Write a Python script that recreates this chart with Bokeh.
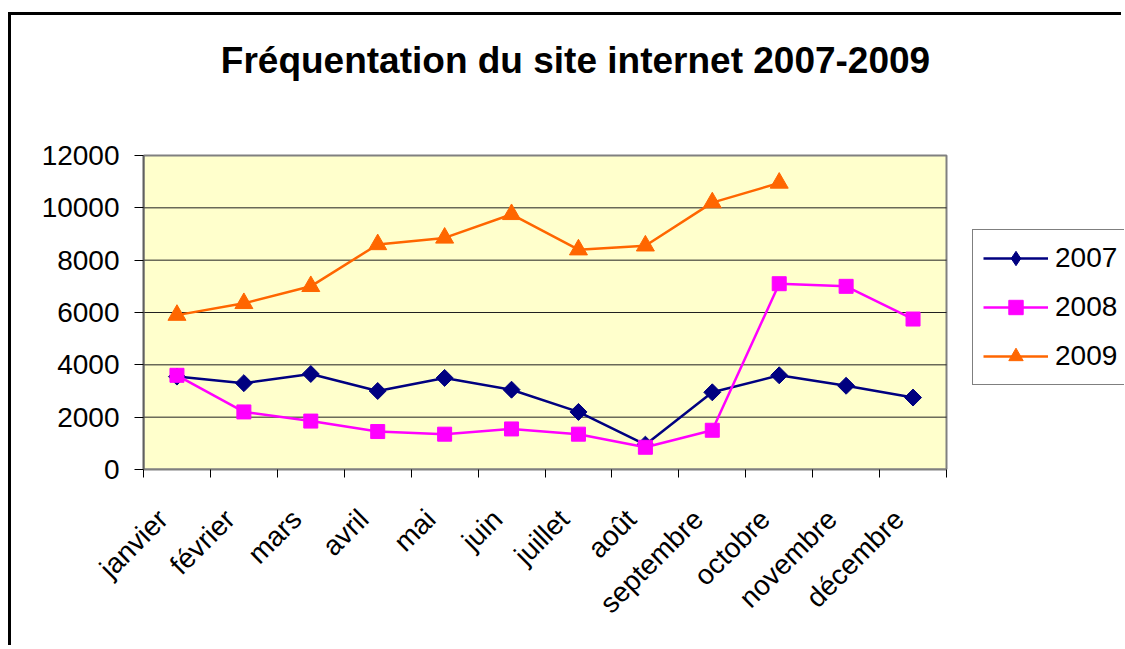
import numpy as np
from bokeh.plotting import figure
from bokeh.models import Range1d, FixedTicker, Legend, LegendItem, Label
from bokeh.embed import file_html
from bokeh.resources import INLINE

months = ["janvier", "février", "mars", "avril", "mai", "juin", "juillet",
          "août", "septembre", "octobre", "novembre", "décembre"]
v2007 = [3550, 3300, 3650, 3000, 3500, 3050, 2200, 950, 2950, 3600, 3200, 2750]
v2008 = [3600, 2200, 1850, 1450, 1350, 1550, 1350, 850, 1500, 7100, 7000, 5750]
v2009 = [5900, 6350, 7000, 8600, 8850, 9750, 8400, 8550, 10200, 10950]
y_ticks = [0, 2000, 4000, 6000, 8000, 10000, 12000]
title_text = "Fréquentation du site internet 2007-2009"

FONT = "Liberation Sans"

# layout (pixels)
FIG_W, FIG_H = 1113, 633
LEFT, BOTTOM = 132, 179
PLOT_W, PLOT_H = 803, 314          # the yellow plot area
FRAME_W = FIG_W - LEFT
FRAME_H = FIG_H - BOTTOM

n = len(months)
x0, x1 = -0.5, n - 0.5
ymax = y_ticks[-1]
x_end = x0 + (x1 - x0) * FRAME_W / PLOT_W
y_end = ymax * FRAME_H / PLOT_H

p = figure(width=FIG_W, height=FIG_H, output_backend="svg", toolbar_location=None,
           x_range=Range1d(x0, x_end), y_range=Range1d(0, y_end),
           min_border_left=LEFT, min_border_right=0, min_border_top=0,
           min_border_bottom=BOTTOM)
p.styles = {"border-left": "3px solid black", "border-top": "3px solid black",
            "margin-left": "8px", "margin-top": "12px"}

p.background_fill_color = "white"
p.border_fill_color = "white"
p.outline_line_color = None
p.xgrid.grid_line_color = None
p.ygrid.grid_line_color = None

# plot area
p.quad(left=x0, right=x1, bottom=0, top=ymax, fill_color="#FFFFCC",
       line_color="#808080", line_width=2, level="image")
p.segment(x0=[x0] * (len(y_ticks) - 2), x1=[x1] * (len(y_ticks) - 2),
          y0=y_ticks[1:-1], y1=y_ticks[1:-1], line_color="#202020", line_width=1)

# x axis: ticks at category boundaries, labels slightly left of the centres
xs = list(range(n))
label_pos = [i - 0.21 for i in xs]
p.xaxis.ticker = FixedTicker(ticks=label_pos, minor_ticks=[i - 0.5 for i in range(n + 1)])
p.xaxis.major_label_overrides = {lp: m for lp, m in zip(label_pos, months)}
p.xaxis.major_label_orientation = np.pi / 4
p.xaxis.bounds = (x0, x1)
p.xaxis.major_tick_out = 0
p.xaxis.major_tick_in = 0
p.xaxis.minor_tick_out = 8
p.xaxis.minor_tick_in = 0
p.xaxis.minor_tick_line_color = "black"
p.xaxis.major_label_standoff = 37
p.xaxis.axis_line_color = "#808080"
p.xaxis.axis_line_width = 2

# y axis
p.yaxis.ticker = FixedTicker(ticks=y_ticks, minor_ticks=[])
p.yaxis.bounds = (0, ymax)
p.yaxis.major_tick_out = 9
p.yaxis.major_tick_in = 0
p.yaxis.major_tick_line_color = "black"
p.yaxis.axis_line_color = "#606060"
p.yaxis.axis_line_width = 2
p.yaxis.major_label_standoff = 15

for ax in (p.xaxis, p.yaxis):
    ax.major_label_text_font = FONT
    ax.major_label_text_font_size = "28px"
    ax.major_label_text_color = "black"

series = [
    ("2007", v2007, "#000080", "square", 12, np.pi / 4, "diamond"),
    ("2008", v2008, "#FF00FF", "square", 14, 0, "square"),
    ("2009", v2009, "#FF6600", "triangle", 18, 0, "triangle"),
]
items = []
for name, vals, col, mk, sz, ang, leg_mk in series:
    x = xs[:len(vals)]
    l = p.line(x, vals, line_color=col, line_width=2.5)
    s = p.scatter(x, vals, marker=mk, size=sz, angle=ang, fill_color=col, line_color=col)
    rs = [l, s]
    if leg_mk != mk:
        # legend-only marker shape (size 0 in the plot)
        s2 = p.scatter(x, vals, marker=leg_mk, size=0, fill_color=col, line_color=col)
        rs = [l, s2]
    items.append(LegendItem(label=name, renderers=rs))

legend = Legend(items=items, location=(829, 84), margin=0, padding=10,
                spacing=13, glyph_width=65, glyph_height=36, label_height=36,
                label_width=95, label_standoff=7,
                label_text_font=FONT, label_text_font_size="28px",
                label_text_color="black",
                border_line_color="black", border_line_width=1,
                background_fill_color="white", background_fill_alpha=1)
p.add_layout(legend, "center")

p.add_layout(Label(x=432, y=409, x_units="screen", y_units="screen", text=title_text,
                   text_align="center", text_baseline="middle", text_font=FONT,
                   text_font_size="37px", text_font_style="bold", text_color="black"))

open("out.html", "w").write(file_html(p, INLINE))
